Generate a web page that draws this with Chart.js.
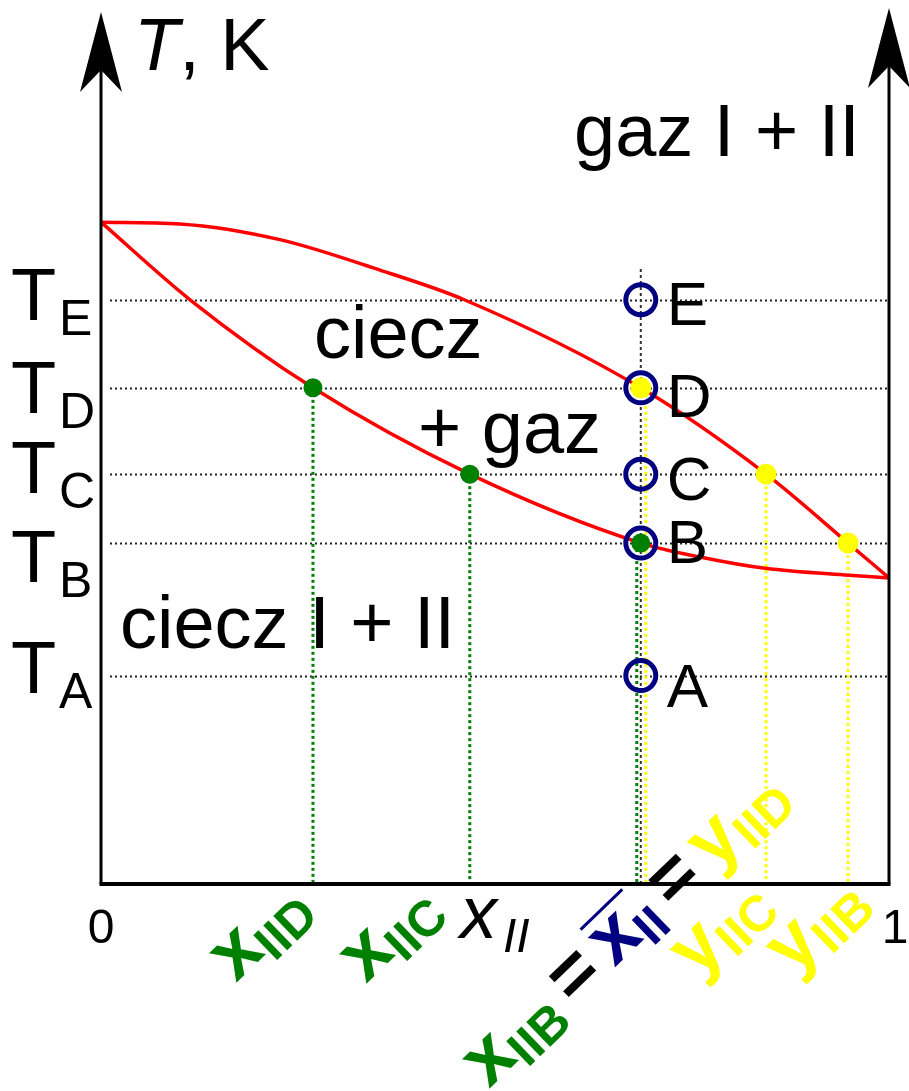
<!DOCTYPE html>
<html>
<head>
<meta charset="utf-8">
<script src="https://cdn.jsdelivr.net/npm/chart.js@4/dist/chart.umd.min.js"></script>
<style>
  html, body { margin: 0; padding: 0; background: #fff; }
  canvas { display: block; }
</style>
</head>
<body>
<canvas id="phase" width="909" height="1091"></canvas>
<script>
// Boiling diagram of a binary mixture I + II (T vs. mole fraction of II)

// temperature levels of the states A..E
const levelNames = ['A', 'B', 'C', 'D', 'E'];
const levelT = [23.9, 39.1, 47.0, 56.9, 67.0];

// overall composition of the mixture and the isopleth through A..E
const xOverall = 0.685;
const isoplethTop = 70.6;

// dew (vapour) line
const xVapor = [0, 0.100, 0.227, 0.354, 0.461, 0.685, 0.844, 0.948, 1];
const tVapor = [75.9, 75.7, 73.9, 70.4, 67.0, 56.9, 47.0, 39.1, 35.1];

// bubble (liquid) line
const xLiquid = [0, 0.113, 0.269, 0.468, 0.685, 0.760, 0.843, 0.949, 1];
const tLiquid = [75.9, 67.0, 56.9, 47.0, 39.1, 37.5, 36.2, 35.4, 35.1];

// coexisting phases at the levels D, C, B
const eqNames = ['D', 'C', 'B'];
const tEq = [56.9, 47.0, 39.1];
const xLiquidEq = [0.269, 0.468, 0.685];
const yVaporEq = [0.685, 0.844, 0.948];

const FONT = '"Liberation Sans", Arial, Helvetica, sans-serif';
const RED = '#ff0000', GREEN = '#008000', YELLOW = '#ffff00', NAVY = '#000080';

const pts = (xs, ys) => xs.map((x, i) => ({ x, y: ys[i] }));

// vertical offsets (px) of the tick labels T_A..T_E and point labels A..E
const tickNudge = [17, 39, 19, 25, 20];
const pointNudge = [31, 20, 26, 29, 25];

function drawRich(ctx, x, y, angleDeg, parts) {
  ctx.save();
  ctx.translate(x, y);
  ctx.rotate(-angleDeg * Math.PI / 180);
  ctx.textAlign = 'left';
  ctx.textBaseline = 'alphabetic';
  let cx = 0;
  for (const p of parts) {
    ctx.font = p.font;
    ctx.fillStyle = p.color;
    const w = ctx.measureText(p.text).width;
    ctx.fillText(p.text, cx, p.dy || 0);
    if (p.overline) {
      ctx.strokeStyle = p.color;
      ctx.lineWidth = 3;
      ctx.beginPath();
      ctx.moveTo(cx + p.overline[0], -51);
      ctx.lineTo(cx + p.overline[1], -51);
      ctx.stroke();
    }
    cx += w + (p.gap || 0);
  }
  ctx.restore();
}

const guides = {
  id: 'guides',
  beforeDatasetsDraw(chart) {
    const { ctx, chartArea: a, scales: { x, y } } = chart;
    ctx.save();
    // dotted temperature levels
    ctx.strokeStyle = '#222';
    ctx.lineWidth = 2;
    ctx.setLineDash([2, 3]);
    levelT.forEach(t => {
      const py = Math.round(y.getPixelForValue(t)) + 0.5;
      ctx.beginPath();
      ctx.moveTo(a.left + 9, py);
      ctx.lineTo(a.right - 2, py);
      ctx.stroke();
    });
    // drop lines of the liquid compositions
    ctx.lineWidth = 3;
    ctx.setLineDash([3, 3]);
    ctx.strokeStyle = GREEN;
    xLiquidEq.forEach((xv, i) => {
      let px = x.getPixelForValue(xv);
      if (Math.abs(xv - xOverall) < 1e-6) px -= 4;
      ctx.beginPath();
      ctx.moveTo(px, y.getPixelForValue(tEq[i]));
      ctx.lineTo(px, a.bottom);
      ctx.stroke();
    });
    // drop lines of the vapour compositions
    ctx.strokeStyle = YELLOW;
    yVaporEq.forEach((xv, i) => {
      let px = x.getPixelForValue(xv);
      if (Math.abs(xv - xOverall) < 1e-6) px += 5;
      ctx.beginPath();
      ctx.moveTo(px, y.getPixelForValue(tEq[i]));
      ctx.lineTo(px, a.bottom);
      ctx.stroke();
    });
    ctx.restore();
  },
  afterDatasetsDraw(chart) {
    const { ctx, chartArea: a, scales: { x, y } } = chart;
    ctx.save();
    ctx.setLineDash([]);
    ctx.strokeStyle = '#000';
    ctx.fillStyle = '#000';
    // axes: T axes at x = 0 and x = 1, composition axis at the bottom
    const x0 = x.getPixelForValue(0), x1 = x.getPixelForValue(1);
    ctx.lineWidth = 3;
    ctx.beginPath();
    ctx.moveTo(x0, a.bottom); ctx.lineTo(x0, a.top + 20);
    ctx.moveTo(x1, a.bottom); ctx.lineTo(x1, a.top + 16);
    ctx.stroke();
    ctx.lineWidth = 4;
    ctx.beginPath();
    ctx.moveTo(x0 - 1.5, a.bottom); ctx.lineTo(x1 + 1.5, a.bottom);
    ctx.stroke();
    const arrow = (px, tip) => {
      ctx.beginPath();
      ctx.moveTo(px, tip);
      ctx.lineTo(px - 21, tip + 80);
      ctx.lineTo(px, tip + 58);
      ctx.lineTo(px + 21, tip + 80);
      ctx.closePath();
      ctx.fill();
    };
    arrow(x0, a.top);
    arrow(x1, a.top - 4);

    ctx.textAlign = 'left';
    ctx.textBaseline = 'alphabetic';
    // axis title
    ctx.font = `italic 74px ${FONT}`;
    ctx.fillText('T', 134, 70);
    const tw = ctx.measureText('T').width;
    ctx.font = `74px ${FONT}`;
    ctx.fillText(', K', 134 + tw, 70);

    // region names
    ctx.fillText('gaz I + II', 574, 156);
    ctx.fillText('ciecz', 314, 358);
    ctx.fillText('+ gaz', 418, 453);
    ctx.fillText('ciecz I + II', 120, 648);

    // temperature tick labels
    levelT.forEach((t, i) => {
      const base = y.getPixelForValue(t) + tickNudge[i];
      ctx.font = `74px ${FONT}`;
      ctx.fillText('T', 11, base);
      ctx.font = `50px ${FONT}`;
      ctx.fillText(levelNames[i], 59, base + 15);
    });

    // state labels next to the points
    ctx.font = `62px ${FONT}`;
    const px = x.getPixelForValue(xOverall);
    levelT.forEach((t, i) => {
      ctx.fillText(levelNames[i], px + 26, y.getPixelForValue(t) + pointNudge[i]);
    });

    // composition axis labels
    ctx.textAlign = 'center';
    ctx.font = `48px ${FONT}`;
    ctx.fillText('0', x0, 943);
    ctx.fillText('1', x1 + 6, 943);
    ctx.textAlign = 'left';
    ctx.font = `italic 74px ${FONT}`;
    ctx.fillText('x', 460, 938);
    ctx.font = `italic 48px ${FONT}`;
    ctx.fillText('II', 503, 952);

    const big = c => ({ font: `bold 76px ${FONT}`, color: c });
    const sub = c => ({ font: `bold 50px ${FONT}`, color: c, dy: 12 });
    drawRich(ctx, 236, 983, 44, [
      { text: 'x', ...big(GREEN) }, { text: 'IID', ...sub(GREEN) }
    ]);
    drawRich(ctx, 366, 984, 44, [
      { text: 'x', ...big(GREEN) }, { text: 'IIC', ...sub(GREEN) }
    ]);
    drawRich(ctx, 697, 979, 44, [
      { text: 'y', ...big(YELLOW) }, { text: 'IIC', ...sub(YELLOW) }
    ]);
    drawRich(ctx, 793, 976, 44, [
      { text: 'y', ...big(YELLOW) }, { text: 'IIB', ...sub(YELLOW) }
    ]);
    drawRich(ctx, 489, 1089, 44, [
      { text: 'x', ...big(GREEN) },
      { text: 'IIB', ...sub(GREEN), gap: 12 },
      { text: '=', ...big('#000'), gap: 12 },
      { text: 'x', ...big(NAVY), overline: [2, 60] },
      { text: 'II', ...sub(NAVY), gap: 12 },
      { text: '=', ...big('#000'), gap: 12 },
      { text: 'y', ...big(YELLOW) },
      { text: 'IID', ...sub(YELLOW) }
    ]);
    ctx.restore();
  }
};

new Chart(document.getElementById('phase'), {
  type: 'scatter',
  data: {
    datasets: [
      {
        label: 'stany',
        data: levelT.map(t => ({ x: xOverall, y: t })),
        pointRadius: 15,
        pointBorderWidth: 5,
        pointBorderColor: NAVY,
        pointBackgroundColor: 'rgba(0,0,0,0)',
        showLine: false,
        order: 0,
        clip: false
      },
      {
        label: 'ciecz',
        data: pts(xLiquidEq, tEq),
        pointRadius: 9.5,
        pointBorderWidth: 0,
        pointBackgroundColor: GREEN,
        showLine: false,
        order: 1,
        clip: false
      },
      {
        label: 'gaz',
        data: pts(yVaporEq, tEq),
        pointRadius: 10.5,
        pointBorderWidth: 0,
        pointBackgroundColor: YELLOW,
        showLine: false,
        order: 2,
        clip: false
      },
      {
        label: 'linia rosy',
        data: pts(xVapor, tVapor),
        showLine: true,
        borderColor: RED,
        borderWidth: 3.5,
        pointRadius: 0,
        cubicInterpolationMode: 'monotone',
        order: 3,
        clip: false
      },
      {
        label: 'linia wrzenia',
        data: pts(xLiquid, tLiquid),
        showLine: true,
        borderColor: RED,
        borderWidth: 3.5,
        pointRadius: 0,
        cubicInterpolationMode: 'monotone',
        order: 4,
        clip: false
      },
      {
        label: 'izoplet',
        data: [{ x: xOverall, y: 0 }, { x: xOverall, y: isoplethTop }],
        showLine: true,
        borderColor: '#333',
        borderWidth: 2,
        borderDash: [3, 3],
        pointRadius: 0,
        order: 5,
        clip: false
      }
    ]
  },
  options: {
    responsive: false,
    animation: false,
    devicePixelRatio: 1,
    layout: { autoPadding: false, padding: { left: 101, right: 20, top: 12, bottom: 207 } },
    scales: {
      x: { type: 'linear', min: 0, max: 1, display: false },
      y: { type: 'linear', min: 0, max: 100, display: false }
    },
    plugins: { legend: { display: false }, tooltip: { enabled: false } },
    events: []
  },
  plugins: [guides]
});
</script>
</body>
</html>
